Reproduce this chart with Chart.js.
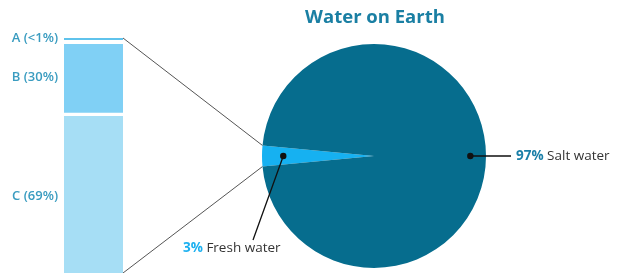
<!DOCTYPE html>
<html>
<head>
<meta charset="utf-8">
<script src="https://cdn.jsdelivr.net/npm/chart.js@4/dist/chart.umd.min.js"></script>
<style>
    html, body { margin: 0; padding: 0; width: 619px; height: 273px; overflow: hidden; background: #fff; }
    canvas { position: absolute; left: 0; top: 0; }
</style>
</head>
<body>
<canvas id="barra" width="140" height="290"></canvas>
<canvas id="torta" width="619" height="273"></canvas>
<script>
// fresh water split (stacked bar, bottom to top)
const partes = ['C', 'B', 'A'];
const partesValores = [69, 30, 1];
const partesTexto = ['C (69%)', 'B (30%)', 'A (<1%)'];

// water on earth (pie)
const tipos = ['Fresh water', 'Salt water'];
const tiposValores = [3, 97];
const tiposPct = ['3%', '97%'];

const titulo = 'Water on Earth';
const fuente = '"Open Sans", sans-serif';

let barChart = null;
let pieChart = null;

window.onload = function () {
    const ctxBar = document.getElementById('barra').getContext('2d');
    const coloresBar = ['#a6def5', '#80d0f5', '#5fc3ec'];
    const bordes = [{ top: 3, bottom: 0, left: 0, right: 0 }, { top: 4, bottom: 1, left: 0, right: 0 }, 0];

    barChart = new Chart(ctxBar, {
        type: 'bar',
        data: {
            labels: ['fresh'],
            datasets: partes.map((p, i) => ({
                label: p,
                data: [partesValores[i]],
                backgroundColor: coloresBar[i],
                borderColor: '#ffffff',
                borderWidth: bordes[i],
                borderSkipped: false,
                barPercentage: 1,
                categoryPercentage: 1
            }))
        },
        options: {
            responsive: false,
            animation: false,
            layout: { padding: { left: 64, right: 17, top: 38, bottom: 9 } },
            plugins: { legend: { display: false }, tooltip: { enabled: false } },
            scales: {
                x: { stacked: true, display: false },
                y: { stacked: true, display: false, min: 0, max: 100 }
            }
        },
        plugins: [{
            id: 'etiquetasBarra',
            afterDraw(chart) {
                const c = chart.ctx;
                c.save();
                c.font = '600 13px ' + fuente;
                c.fillStyle = '#3a9cc0';
                c.textAlign = 'right';
                c.textBaseline = 'middle';
                chart.data.datasets.forEach((ds, i) => {
                    const el = chart.getDatasetMeta(i).data[0];
                    let y = (el.y + el.base) / 2;
                    if (partesValores[i] < 5) y = el.y;
                    if (i === 0) y = 196;
                    c.fillText(partesTexto[i], 58, y);
                });
                c.restore();
            }
        }]
    });

    const ctxPie = document.getElementById('torta').getContext('2d');
    pieChart = new Chart(ctxPie, {
        type: 'pie',
        data: {
            labels: tipos,
            datasets: [{
                data: tiposValores,
                backgroundColor: ['#16b1f1', '#066d8e'],
                borderWidth: 0
            }]
        },
        options: {
            responsive: false,
            animation: false,
            rotation: 270 - 3 * 3.6 / 2,
            layout: { padding: { left: 262, right: 133, top: 44, bottom: 5 } },
            plugins: { legend: { display: false }, tooltip: { enabled: false } }
        },
        plugins: [{
            id: 'conectores',
            beforeDatasetsDraw(chart) {
                const c = chart.ctx;
                const fresh = chart.getDatasetMeta(0).data[0];
                const bar = barChart.getDatasetMeta(2).data[0];
                const xr = bar.x + bar.width / 2;
                const p1 = { x: fresh.x + fresh.outerRadius * Math.cos(fresh.startAngle), y: fresh.y + fresh.outerRadius * Math.sin(fresh.startAngle) };
                const p2 = { x: fresh.x + fresh.outerRadius * Math.cos(fresh.endAngle), y: fresh.y + fresh.outerRadius * Math.sin(fresh.endAngle) };
                c.save();
                c.strokeStyle = '#555';
                c.lineWidth = 1;
                c.beginPath();
                c.moveTo(xr, bar.y);
                c.lineTo(p2.x, p2.y);
                c.moveTo(xr, 273);
                c.lineTo(p1.x, p1.y);
                c.stroke();
                c.restore();
            },
            afterDraw(chart) {
                const c = chart.ctx;
                const meta = chart.getDatasetMeta(0);
                c.save();
                // title
                c.font = 'bold 18.5px ' + fuente;
                c.fillStyle = '#1a7fa3';
                c.textAlign = 'center';
                c.textBaseline = 'middle';
                c.fillText(titulo, 375, 18);

                const f = meta.data[0];
                const fa = (f.startAngle + f.endAngle) / 2;
                const fx = f.x + f.outerRadius * 0.81 * Math.cos(fa);
                const fy = f.y + f.outerRadius * 0.81 * Math.sin(fa);
                const s = meta.data[1];
                const sa = (s.startAngle + s.endAngle) / 2;
                const sx = s.x + s.outerRadius * 0.86 * Math.cos(sa);
                const sy = s.y + s.outerRadius * 0.86 * Math.sin(sa);

                c.strokeStyle = '#111';
                c.lineWidth = 1.3;
                c.beginPath();
                c.moveTo(fx, fy);
                c.lineTo(253, 240);
                c.moveTo(sx, sy);
                c.lineTo(511, sy);
                c.stroke();
                c.fillStyle = '#111';
                [[fx, fy], [sx, sy]].forEach(p => {
                    c.beginPath();
                    c.arc(p[0], p[1], 3.2, 0, Math.PI * 2);
                    c.fill();
                });

                c.textAlign = 'left';
                c.font = 'bold 13.5px ' + fuente;
                c.fillStyle = '#1cb0f0';
                c.fillText(tiposPct[0], 183, 248);
                let w = c.measureText(tiposPct[0] + ' ').width;
                c.font = '13.5px ' + fuente;
                c.fillStyle = '#333';
                c.fillText(tipos[0], 183 + w, 248);

                c.font = 'bold 13.5px ' + fuente;
                c.fillStyle = '#1a7fa8';
                c.fillText(tiposPct[1], 516, sy);
                w = c.measureText(tiposPct[1] + ' ').width;
                c.font = '13.5px ' + fuente;
                c.fillStyle = '#333';
                c.fillText(tipos[1], 516 + w, sy);
                c.restore();
            }
        }]
    });
};
</script>
</body>
</html>
